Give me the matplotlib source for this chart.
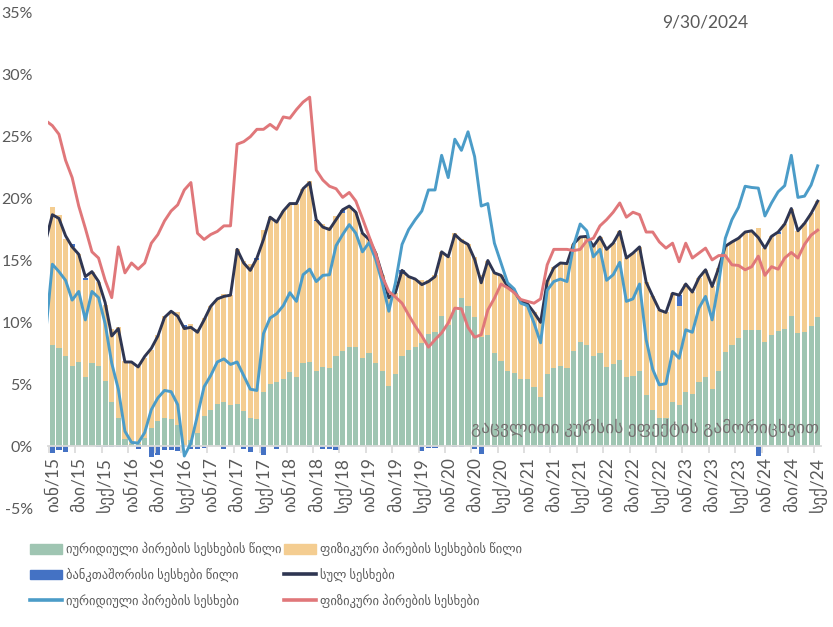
import numpy as np
import matplotlib.pyplot as plt
from matplotlib.patches import Patch
from matplotlib.lines import Line2D

plt.rcParams['font.family'] = ['Lato', 'DejaVu Sans']

# თვეები (2014 დეკ. - 2024 სექ.)
months = ['იან', 'თებ', 'მარ', 'აპრ', 'მაი', 'ივნ', 'ივლ', 'აგვ', 'სექ', 'ოქტ', 'ნოე', 'დეკ']
start_year, start_month = 2014, 12

# წილი საერთო ზრდაში, %
legal_share = [
    6.2, 8.2, 7.9, 7.3, 6.45, 6.8, 5.6, 6.7, 6.45, 5.3, 3.6, 2.3, 0.6,
    0.2, 0.2, 0.65, 1.5, 2.0, 2.3, 2.2, 1.7, 0.1, 0.5, 1.1, 2.4,
    2.9, 3.4, 3.55, 3.3, 3.4, 2.8, 2.3, 2.2, 4.4, 5.0, 5.2, 5.45,
    5.95, 5.6, 6.7, 6.8, 6.1, 6.4, 6.3, 7.25, 7.65, 8.0, 8.0, 7.1,
    7.5, 6.7, 6.05, 4.85, 5.85, 7.25, 7.75, 8.05, 8.3, 9.1, 9.2, 10.55,
    9.8, 11.0, 12.0, 11.35, 10.45, 8.8, 8.95, 7.5, 6.85, 6.1, 5.9, 5.45,
    5.4, 4.75, 4.0, 5.85, 6.3, 6.45, 6.3, 7.7, 8.4, 8.2, 7.25, 7.5,
    6.4, 6.6, 7.0, 5.6, 5.65, 6.1, 4.1, 2.95, 2.3, 2.3, 3.6, 3.35,
    4.35, 4.25, 5.15, 5.55, 4.65, 6.05, 7.6, 8.2, 8.7, 9.4, 9.4, 9.4,
    8.4, 8.95, 9.3, 9.5, 10.55, 9.15, 9.2, 9.7, 10.4,
]
indiv_share = [
    10.6, 11.1, 10.8, 9.4, 9.65, 8.7, 7.85, 7.4, 6.85, 6.1, 5.9, 7.3, 6.3,
    6.6, 6.3, 6.45, 6.3, 7.0, 8.2, 8.7, 9.1, 9.45, 9.4, 8.4, 7.95,
    8.4, 8.5, 8.75, 8.9, 12.5, 12.2, 12.4, 12.85, 13.05, 13.5, 13.1, 13.55,
    13.65, 14.0, 14.1, 14.6, 12.1, 11.55, 11.4, 11.35, 11.15, 11.4, 10.9, 10.1,
    9.2, 8.9, 7.8, 7.15, 6.55, 6.65, 5.95, 5.45, 5.15, 4.35, 4.65, 5.15,
    5.5, 6.2, 4.7, 4.95, 4.85, 5.0, 6.05, 6.6, 6.95, 6.8, 6.6, 6.25,
    6.1, 6.05, 6.1, 7.55, 8.2, 8.35, 8.45, 8.65, 8.5, 8.75, 8.9, 9.4,
    9.5, 9.8, 10.35, 9.6, 9.95, 10.0, 9.15, 9.15, 8.7, 8.5, 8.75, 7.95,
    8.75, 8.2, 8.45, 8.7, 8.25, 8.35, 8.55, 8.3, 8.1, 7.9, 8.0, 8.2,
    7.6, 8.0, 7.85, 8.45, 8.65, 8.25, 8.8, 9.1, 9.4,
]
interbank_share = [
    -0.3, -0.55, -0.3, -0.5, 0.2, 0.0, 0.15, 0.0, -0.1, -0.1, -0.1, -0.1, -0.1,
    0.0, -0.2, 0.0, -0.85, -0.75, -0.3, -0.3, -0.4, 0.25, -0.2, -0.2, -0.15,
    0.0, 0.0, -0.2, 0.0, 0.0, -0.2, -0.5, 0.15, -0.75, 0.0, -0.2, 0.0,
    0.0, 0.0, 0.0, -0.1, 0.1, -0.25, -0.2, -0.3, 0.3, 0.0, 0.0, 0.0,
    0.0, 0.0, 0.0, 0.0, 0.0, 0.3, 0.0, 0.0, -0.4, -0.15, -0.15, 0.0,
    0.0, -0.1, -0.1, 0.0, -0.2, -0.6, 0.0, -0.1, 0.0, 0.0, 0.0, 0.0,
    0.0, 0.0, -0.1, -0.1, -0.1, 0.0, 0.0, 0.0, 0.0, 0.0, 0.0, 0.0,
    0.0, 0.0, 0.0, 0.0, 0.0, 0.0, 0.0, 0.0, 0.0, 0.0, 0.0, 0.9,
    0.0, 0.0, 0.0, 0.0, 0.0, 0.0, 0.0, 0.0, 0.0, 0.0, 0.0, -0.77,
    0.0, 0.0, 0.15, 0.0, 0.0, 0.0, 0.0, 0.0, 0.0,
]

# წლიური ზრდა, %
total_growth = [
    16.6, 18.7, 18.4, 17.0, 16.1, 15.5, 13.7, 14.1, 13.3, 11.6, 8.9, 9.5, 6.8,
    6.8, 6.4, 7.25, 7.9, 8.9, 10.4, 10.9, 10.5, 9.5, 9.6, 9.2, 10.2,
    11.3, 11.9, 12.1, 12.2, 15.9, 14.8, 14.2, 15.2, 16.7, 18.5, 18.1, 19.0,
    19.6, 19.6, 20.8, 21.3, 18.3, 17.7, 17.5, 18.3, 19.1, 19.4, 18.9, 17.2,
    16.7, 15.6, 13.85, 12.0, 12.4, 14.2, 13.7, 13.5, 13.05, 13.3, 13.7, 15.7,
    15.3, 17.1, 16.6, 16.3, 15.1, 13.2, 15.0, 14.0, 13.8, 12.9, 12.5, 11.7,
    11.5, 10.8, 10.0, 13.3, 14.4, 14.8, 14.75, 16.35, 16.9, 16.95, 16.15, 16.9,
    15.9, 16.4, 17.35, 15.2, 15.6, 16.1, 13.25, 12.1, 11.0, 10.8, 12.35, 12.2,
    13.1, 12.45, 13.6, 14.25, 12.9, 14.4, 16.15, 16.5, 16.8, 17.3, 17.4, 16.85,
    16.0, 16.95, 17.3, 17.95, 19.2, 17.4, 18.0, 18.8, 19.8,
]
legal_growth = [
    9.2, 14.7, 14.1, 13.4, 11.8, 12.5, 10.2, 12.5, 12.0, 9.9, 6.7, 4.6, 1.2,
    0.3, 0.25, 1.1, 2.95, 3.9, 4.5, 4.4, 3.35, -0.8, 0.25, 2.5, 4.8,
    5.7, 6.8, 7.05, 6.6, 6.8, 5.7, 4.6, 4.5, 9.1, 10.35, 10.7, 11.35,
    12.4, 11.7, 13.85, 14.3, 13.3, 13.8, 13.85, 16.2, 17.1, 17.9, 17.2, 15.7,
    16.45, 15.1, 13.2, 10.9, 13.2, 16.3, 17.5, 18.3, 19.0, 20.7, 20.7, 23.5,
    21.7, 24.8, 23.9, 25.4, 23.4, 19.4, 19.6, 16.4, 14.8, 13.2, 12.7, 11.55,
    11.35, 9.95, 8.35, 12.6, 13.3, 13.5, 13.3, 16.2, 17.95, 17.4, 15.3, 15.9,
    13.4, 13.85, 14.85, 11.7, 11.9, 13.1, 8.6, 6.2, 4.95, 5.05, 7.65, 7.1,
    9.4, 9.2, 11.15, 12.1, 10.2, 13.2, 16.8, 18.3, 19.3, 21.0, 20.9, 20.85,
    18.6, 19.65, 20.55, 21.05, 23.5, 20.1, 20.2, 21.1, 22.65,
]
indiv_growth = [
    26.3, 25.9, 25.2, 23.1, 21.7, 19.4, 17.6, 15.7, 15.2, 13.4, 12.0, 16.1, 14.0,
    14.8, 14.3, 14.8, 16.4, 17.1, 18.2, 19.0, 19.5, 20.7, 21.3, 17.2, 16.7,
    17.1, 17.35, 17.8, 17.8, 24.4, 24.6, 25.0, 25.6, 25.6, 26.0, 25.6, 26.6,
    26.5, 27.2, 27.8, 28.2, 22.3, 21.5, 21.0, 20.8, 20.1, 20.5, 19.8, 18.4,
    16.95, 15.55, 13.7, 12.5, 12.05, 11.55, 10.6, 9.7, 8.9, 8.0, 8.6, 9.15,
    9.95, 11.15, 11.1, 9.6, 8.8, 9.0, 11.0, 11.95, 13.1, 12.8, 12.4, 11.85,
    11.7, 11.55, 11.9, 14.65, 15.9, 15.9, 15.9, 15.8, 15.9, 16.6, 16.8, 17.8,
    18.3, 18.9, 19.65, 18.5, 18.9, 18.7, 17.3, 17.3, 16.5, 16.0, 16.4, 14.9,
    16.4, 15.2, 15.6, 16.0, 15.05, 15.4, 15.4, 14.65, 14.6, 14.25, 14.5, 15.35,
    13.8, 14.5, 14.3, 15.2, 15.65, 15.2, 16.3, 17.05, 17.45,
]

GREEN = '#9fc5b2'
ORANGE = '#f4cd91'
BLUE = '#4472c4'
NAVY = '#2f3652'
LBLUE = '#4b9cc8'
RED = '#e0777a'
GREY = '#595959'

n = len(legal_share)
x = np.arange(n) - 1          # 0 = იანვარი 2015
labels = []
for k in range(n):
    m = start_month - 1 + k
    labels.append(f"{months[m % 12]}/{(start_year + m // 12) % 100:02d}")

legal = np.array(legal_share)
indiv = np.array(indiv_share)
ib = np.array(interbank_share)

fig = plt.figure(figsize=(8.33, 6.27), dpi=100)
ax = fig.add_axes([48 / 833, 1 - 508 / 627, 773 / 833, 495 / 627])

w = 0.78
ax.bar(x, legal, width=w, color=GREEN, zorder=1)
ax.bar(x, indiv, width=w, bottom=legal, color=ORANGE, zorder=1)
ax.bar(x, ib, width=w, bottom=np.where(ib > 0, legal + indiv, 0), color=BLUE, zorder=1)

ax.plot(x, total_growth, color=NAVY, lw=2.1, zorder=3)
ax.plot(x, legal_growth, color=LBLUE, lw=2.1, zorder=3)
ax.plot(x, indiv_growth, color=RED, lw=2.1, zorder=3)

ax.set_xlim(-0.66, 116.5)
ax.set_ylim(-5, 35)

for s in ['top', 'right', 'left']:
    ax.spines[s].set_visible(False)
ax.spines['bottom'].set_position(('data', 0))
ax.spines['bottom'].set_color('#d9d9d9')
ax.spines['bottom'].set_linewidth(1.3)
ax.spines['bottom'].set_zorder(2)

yt = np.arange(-5, 36, 5)
ax.set_yticks(yt)
ax.set_yticklabels([f"{v}%" for v in yt])
ax.tick_params(axis='y', length=0, pad=11, labelsize=11.5, labelcolor=GREY)

major = [k for k in range(n) if x[k] >= 0 and x[k] % 4 == 0]
ax.set_xticks(x[major])
ax.set_xticklabels([labels[k] for k in major], rotation=90, ha='center', va='top')
ax.set_xticks(np.arange(-0.5, 116, 4), minor=True)
ax.tick_params(axis='x', which='major', length=0, pad=8, labelsize=12.5, labelcolor=GREY)
ax.tick_params(axis='x', which='minor', length=5, width=1.2, color='#d9d9d9', direction='out')

fig.text(645 / 833, 1 - 428 / 627, 'გაცვლითი კურსის ეფექტის გამორიცხვით',
         ha='center', va='center', fontsize=12.6, color='#767171')
fig.text(705 / 833, 1 - 22 / 627, '9/30/2024', ha='center', va='center',
         fontsize=12.5, color=GREY)

col1 = [Patch(color=GREEN), Patch(color=BLUE), Line2D([], [], color=LBLUE, lw=2.6)]
col1_labels = ['იურიდიული პირების სესხების წილი', 'ბანკთაშორისი სესხები წილი',
               'იურიდიული პირების სესხები']
col2 = [Patch(color=ORANGE), Line2D([], [], color=NAVY, lw=2.6), Line2D([], [], color=RED, lw=2.6)]
col2_labels = ['ფიზიკური პირების სესხების წილი', 'სულ სესხები', 'ფიზიკური პირების სესხები']

common = dict(loc='upper left', frameon=False, fontsize=9, handlelength=2.56,
              handleheight=0.8, handletextpad=0.3, labelspacing=0.92,
              borderpad=0, borderaxespad=0, labelcolor=GREY)
fig.legend(col1, col1_labels, bbox_to_anchor=(30 / 833, 1 - 542 / 627), **common)
fig.legend(col2, col2_labels, bbox_to_anchor=(284 / 833, 1 - 542 / 627), **common)

fig.savefig('out.png', dpi=100)
